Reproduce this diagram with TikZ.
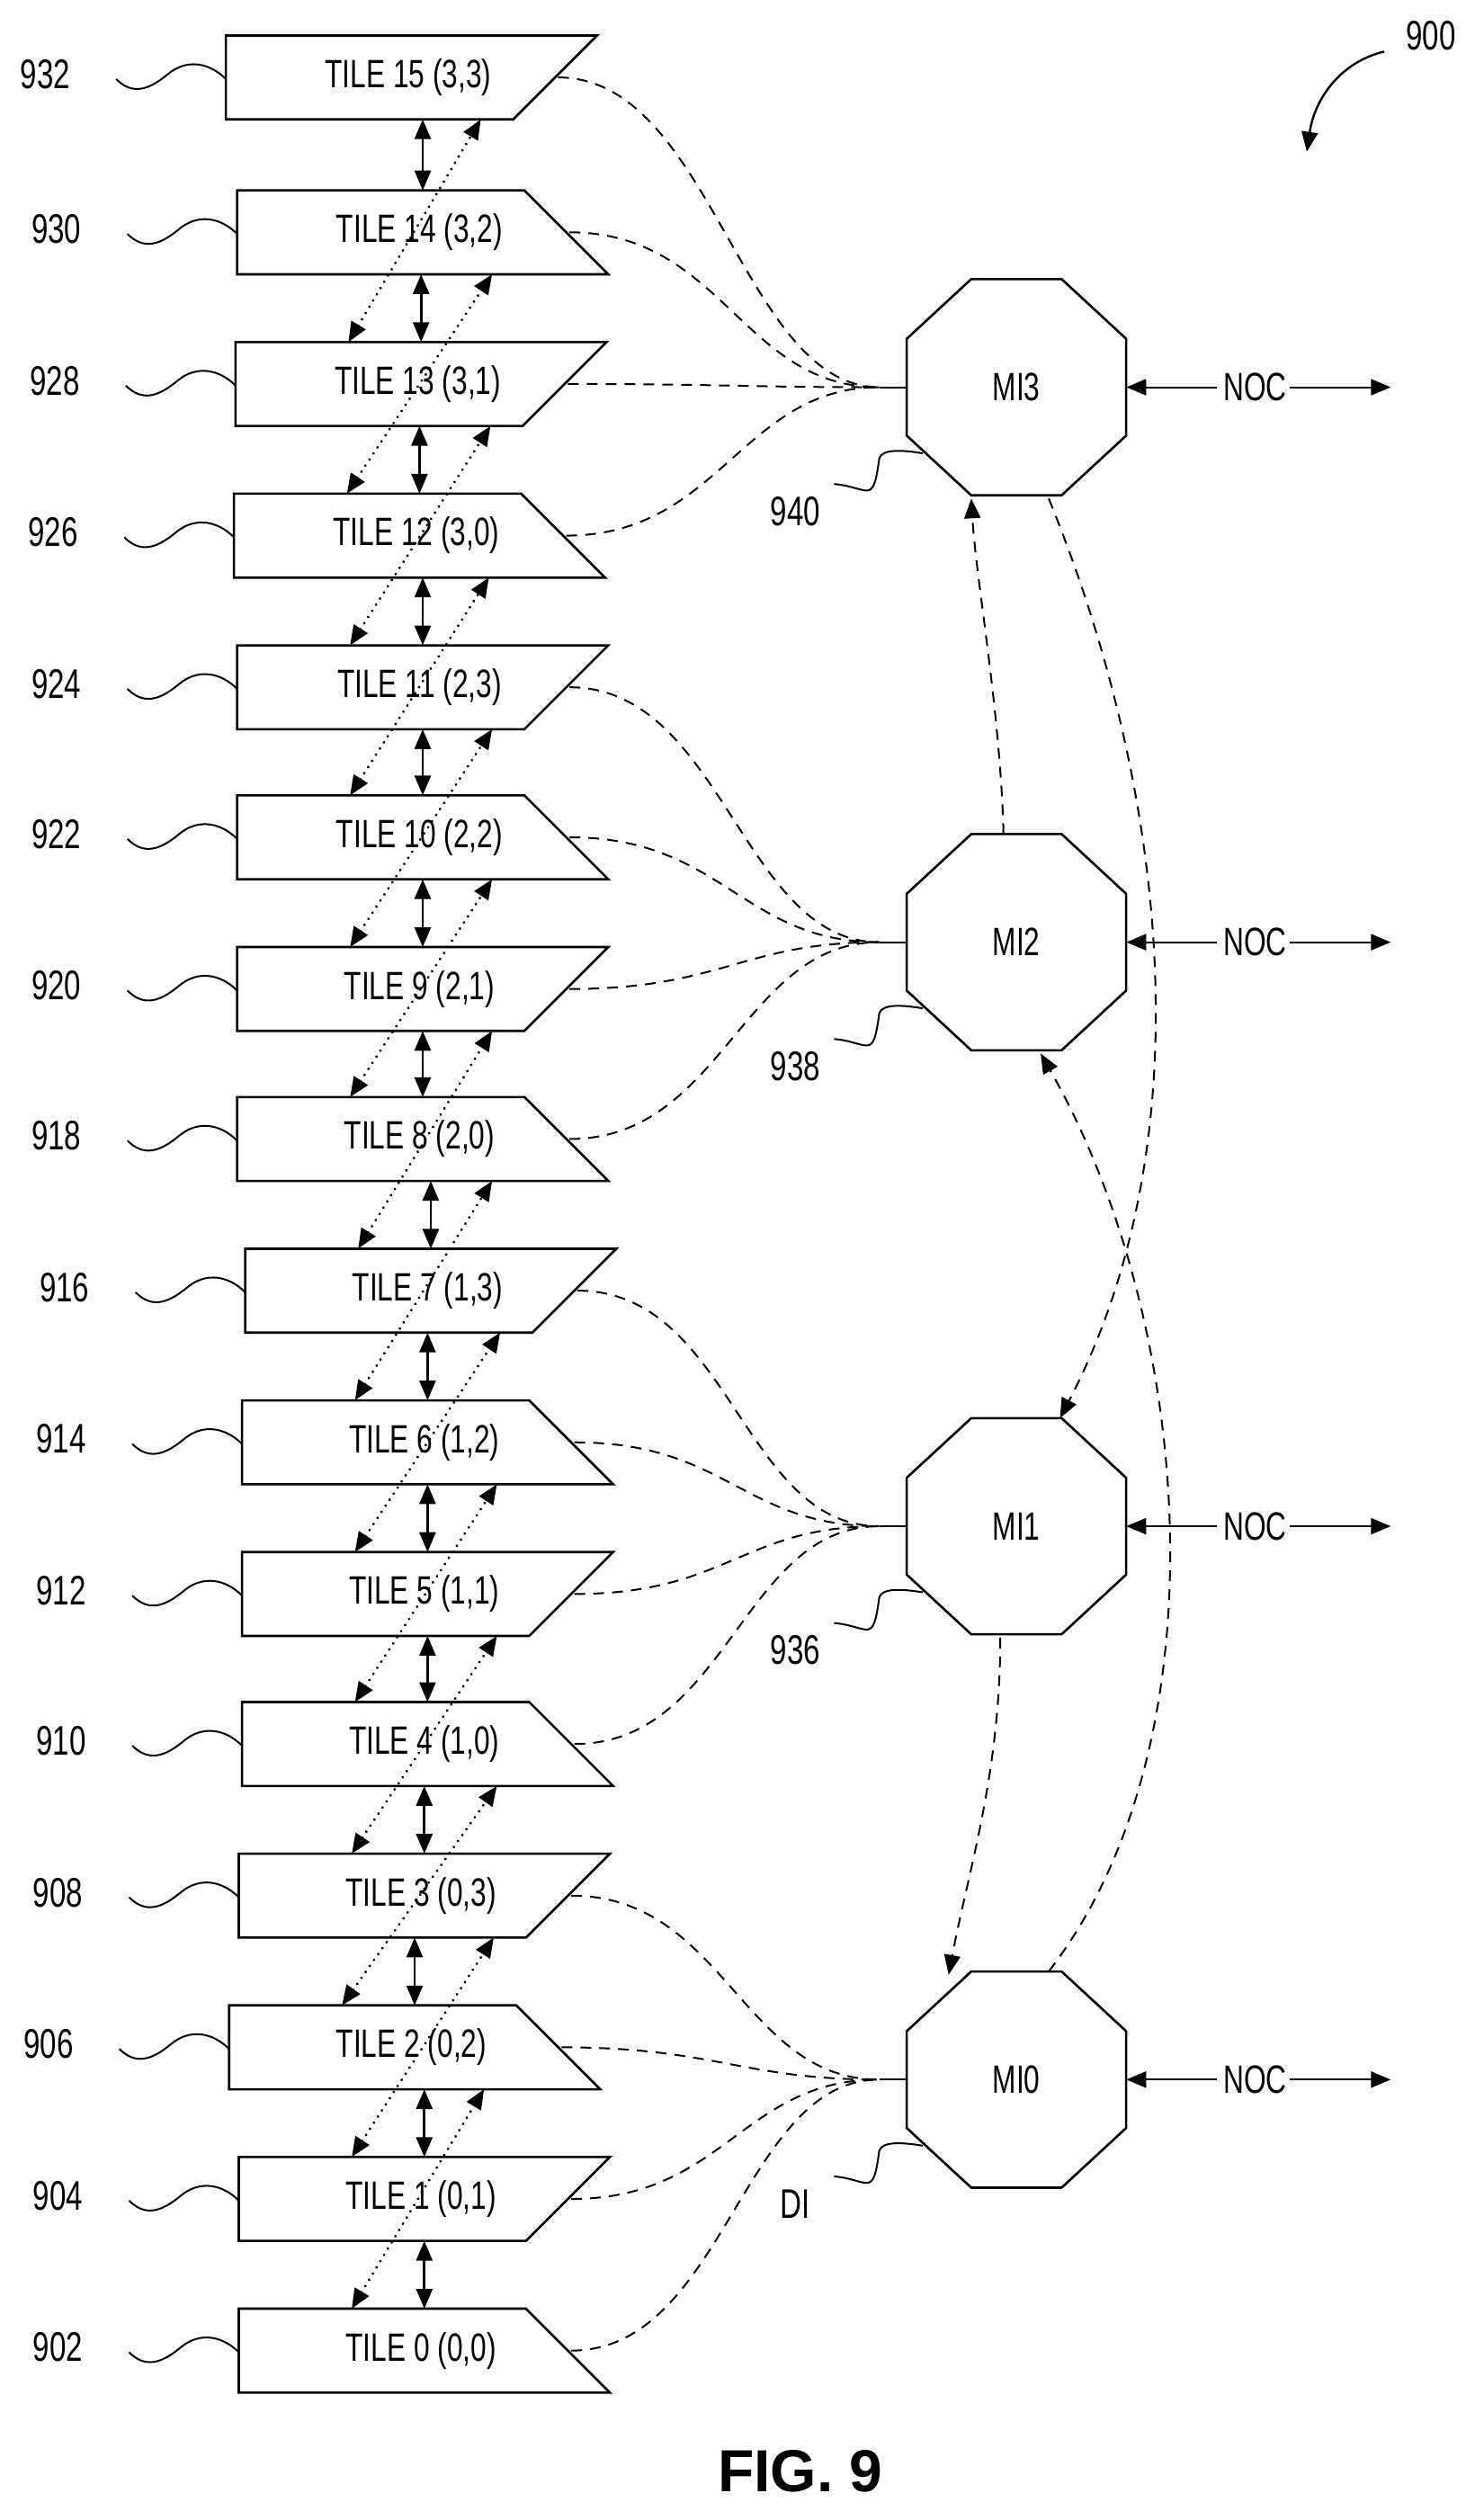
\documentclass[tikz,border=0pt]{standalone}
\usepackage{fontspec}
\setmainfont{Liberation Sans}
\newfontfamily\cond{Liberation Sans}[FakeStretch=0.72]
\usetikzlibrary{arrows.meta,calc}
\begin{document}
\begin{tikzpicture}[x=1.7943pt,y=-1.7943pt,
  shp/.style={line width=2.6pt,line join=miter},
  tt/.style={font=\cond\fontsize{44}{48}\selectfont,inner sep=0pt},
  lab/.style={font=\cond\fontsize{46}{50}\selectfont,inner sep=0pt},
  wave/.style={line width=2pt},
  tip/.style={-{Triangle[length=22pt,width=18pt]}},
  dtip/.style={{Triangle[length=22pt,width=18pt]}-{Triangle[length=22pt,width=18pt]}},
  varr/.style={dtip,line width=2.6pt},
  darr/.style={dtip,line width=3.2pt,line cap=round,dash pattern=on 0.1pt off 8pt},
  dc/.style={line width=2pt,dash pattern=on 12pt off 9pt},
  oct/.style={draw=none,minimum width=244pt,minimum height=240pt,inner sep=0pt,font=\cond\fontsize{44}{48}\selectfont}]
\useasboundingbox (0,0) rectangle (914,1562);
% tiles
\foreach \i/\L/\T/\r/\c/\n in {0/148/1431/0/0/902,1/148/1337/0/1/904,2/142/1243/0/2/906,3/148/1149/0/3/908,
  4/150/1055/1/0/910,5/150/962/1/1/912,6/150/868/1/2/914,7/152/774/1/3/916,
  8/147/680/2/0/918,9/147/587/2/1/920,10/147/493/2/2/922,11/147/400/2/3/924,
  12/145/306/3/0/926,13/146/212/3/1/928,14/147/118/3/2/930,15/140/22/3/3/932}{
  \pgfmathtruncatemacro{\odd}{mod(\i,2)}
  \ifnum\odd=1
    \draw[shp] (\L,\T) -- (\L+230,\T) -- (\L+178,\T+52) -- (\L,\T+52) -- cycle;
  \else
    \draw[shp] (\L,\T) -- (\L+178,\T) -- (\L+230,\T+52) -- (\L,\T+52) -- cycle;
  \fi
  \node[tt] (t\i) at (\L+113,\T+26) {TILE \i\ (\r,\c)};
  \coordinate (t\i-vt) at (\L+115,\T);
  \coordinate (t\i-vb) at (\L+115,\T+52);
  \coordinate (t\i-dl) at (\L+70,\T);
  \coordinate (t\i-dr) at (\L+158,\T+52);
  \coordinate (t\i-r) at (\L+206,\T+26);
  \node[lab] (n\i) at (\L-112,\T+24) {\n};
  \coordinate (w\i-s) at (\L-68,\T+27);
  \coordinate (w\i-m) at (\L-36,\T+24);
  \coordinate (w\i-e) at (\L,\T+27);
  \draw[wave] (w\i-s) .. controls +(10,10) and +(-12,10) .. (w\i-m) .. controls +(12,-10) and +(-10,-10) .. (w\i-e);
}
% vertical solid double arrows
\foreach \i in {0,...,14}{
  \pgfmathtruncatemacro{\j}{\i+1}
  \draw[varr] (t\i-vt) -- (t\i-vt |- t\j-vb);
}
% dotted diagonal double arrows
\foreach \i in {0,...,13}{
  \pgfmathtruncatemacro{\j}{\i+2}
  \draw[darr] (t\i-dl) -- (t\j-dr);
}
% memory interfaces
\foreach \k/\y/\txt/\num in {3/240/MI3/940,2/584/MI2/938,1/946/MI1/936,0/1289/MI0\//DI/934}{
  \node[oct] (m\k) at (630,\y) {\txt};
  \draw[shp] ([shift={(-28,-67)}]m\k.center) -- ([shift={(28,-67)}]m\k.center) -- ([shift={(68,-30)}]m\k.center)
    -- ([shift={(68,30)}]m\k.center) -- ([shift={(28,67)}]m\k.center) -- ([shift={(-28,67)}]m\k.center)
    -- ([shift={(-68,30)}]m\k.center) -- ([shift={(-68,-30)}]m\k.center) -- cycle;
  \coordinate (h\k) at (545,\y);
  \draw[line width=2pt] (h\k) -- (m\k.west);
  \node[tt] (noc\k) at (778,\y) {NOC};
  \draw[tip,line width=2pt] (noc\k.west) ++(-4,0) -- (m\k.east);
  \coordinate (ne\k) at (862,\y);
  \draw[tip,line width=2pt] ([xshift=-4pt]noc\k.east) ++(4,0) -- (ne\k);
  \node[lab] (mn\k) at (493,\y+77) {\num};
  \coordinate (mw\k-s) at (517,\y+60);
  \coordinate (mw\k-e) at (572,\y+41);
  \draw[wave] (mw\k-s) .. controls +(22,2) and +(-4,30) .. (545,\y+44) .. controls +(2,-6) and +(-12,-2) .. (mw\k-e);
}
% tile to MI dashed curves
\foreach \i in {0,...,15}{
  \pgfmathtruncatemacro{\g}{int(\i/4)}
  \draw[dc] (t\i-r) .. controls +(95,0) and +(-85,0) .. (h\g);
}
% MI to MI dashed arrows
\coordinate (a1) at (622,517); \coordinate (a2) at (602,309);
\draw[dc,tip] (a1) .. controls (620,440) and (605,360) .. (a2);
\coordinate (b1) at (650,309); \coordinate (b2) at (657,879);
\draw[dc,tip] (b1) .. controls (720,480) and (750,700) .. (b2);
\coordinate (c1) at (620,1015); \coordinate (c2) at (588,1224);
\draw[dc,tip] (c1) .. controls (620,1100) and (600,1160) .. (c2);
\coordinate (d1) at (650,1222); \coordinate (d2) at (645,653);
\draw[dc,tip] (d1) .. controls (760,1080) and (740,820) .. (d2);
% 900
\node[lab] (n900) at (887,22) {900};
\coordinate (n900a) at (858,32); \coordinate (n900b) at (810,94);
\draw[tip,line width=2.4pt] (n900a) .. controls (832,38) and (815,60) .. (n900b);
\node[font=\bfseries\fontsize{66}{70}\selectfont,inner sep=0pt] (fig) at (496,1532) {FIG. 9};
\end{tikzpicture}
\end{document}
